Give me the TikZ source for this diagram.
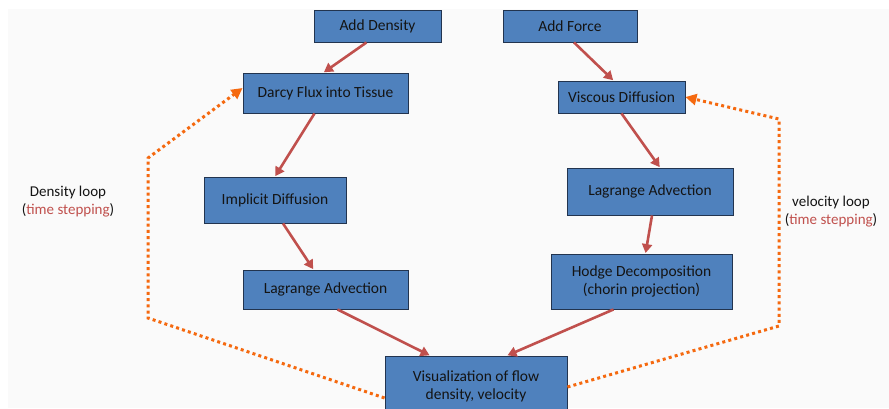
\documentclass[tikz,border=0pt]{standalone}
\usepackage{fontspec}
\setmainfont{Carlito}
\usetikzlibrary{arrows.meta}
\definecolor{boxblue}{HTML}{4F81BD}
\definecolor{boxedge}{HTML}{22344F}
\definecolor{flowred}{HTML}{C0504D}
\definecolor{loopor}{HTML}{F5690F}
\definecolor{txt}{HTML}{141414}
\definecolor{paper}{HTML}{FAFAFA}
\begin{document}
\begin{tikzpicture}[x=1pt,y=-1pt,
  stage/.style={draw=boxedge, line width=0.9pt, fill=boxblue, text=txt,
    font=\fontsize{15.5}{18}\selectfont, align=center, inner sep=0pt},
  flow/.style={draw=flowred, line width=2.6pt,
    -{Triangle[length=9pt,width=10pt]}, shorten >=0.5pt},
  loop/.style={draw=loopor, line width=3pt,
    dash pattern=on 3pt off 3.2pt,
    -{Triangle[length=11pt,width=11pt]}},
  note/.style={font=\fontsize{15}{18}\selectfont, text=txt, align=center}]
\useasboundingbox (0,0) rectangle (889,408);
\clip (0,0) rectangle (889,408);
\fill[white] (0,0) rectangle (889,408);
\fill[paper] (8,9) rectangle (889,408);

% process stages
\node[stage, minimum width=127pt, minimum height=32pt] (adddens) at (377.5,26) {Add Density};
\node[stage, minimum width=134pt, minimum height=32pt] (addforce) at (570,26) {Add Force};
\node[stage, minimum width=165pt, minimum height=40pt] (darcy) at (325.5,93) {Darcy Flux into Tissue};
\node[stage, minimum width=127pt, minimum height=32pt] (viscous) at (621.5,97) {Viscous Diffusion};
\node[stage, minimum width=142pt, minimum height=46pt] (implicit) at (275,200) {Implicit Diffusion};
\node[stage, minimum width=166pt, minimum height=47pt] (lagR) at (650,191.5) {Lagrange Advection};
\node[stage, minimum width=165pt, minimum height=39pt] (lagL) at (325.5,289.5) {Lagrange Advection};
\node[stage, minimum width=181pt, minimum height=55pt] (hodge) at (641.5,281.5) {Hodge Decomposition\\(chorin projection)};
\node[stage, minimum width=182pt, minimum height=60pt] (vis) at (476,386) {Visualization of flow\\density, velocity};

% main flow
\draw[flow] ([xshift=-11pt]adddens.south) -- ([xshift=-2pt]darcy.north);
\draw[flow] ([xshift=-11pt]darcy.south) -- (implicit.north);
\draw[flow] ([xshift=8pt]implicit.south) -- ([xshift=-12pt]lagL.north);
\draw[flow] ([xshift=12pt]lagL.south) -- ([xshift=-46pt]vis.north);
\draw[flow] ([xshift=4pt]addforce.south) -- ([xshift=-8pt]viscous.north);
\draw[flow] (viscous.south) -- ([xshift=10pt]lagR.north);
\draw[flow] ([xshift=2pt]lagR.south) -- ([xshift=4pt]hodge.north);
\draw[flow] ([xshift=-28pt]hodge.south) -- ([xshift=31pt]vis.north);

% time-stepping loops
\coordinate (dl1) at (148,318);
\coordinate (dl2) at (148,158);
\coordinate (vl1) at (779,326);
\coordinate (vl2) at (779,119);
\draw[loop] ([yshift=-12pt]vis.west) -- (dl1) -- (dl2) -- ([yshift=5pt]darcy.west);
\draw[loop] ([yshift=-1pt]vis.east) -- (vl1) -- (vl2) -- (viscous.east);

% loop labels
\node[note] (dlab) at (68,202) {Density loop\\(\textcolor{flowred}{time stepping})};
\node[note] (vlab) at (831,212) {velocity loop\\(\textcolor{flowred}{time stepping})};
\end{tikzpicture}
\end{document}
